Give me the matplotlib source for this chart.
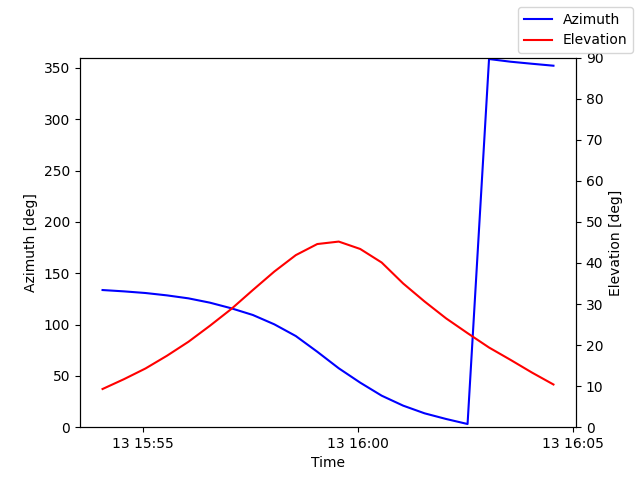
import matplotlib
matplotlib.use("Agg")
import matplotlib.pyplot as plt
import numpy as np

# pass times (30 s steps) and look angles
times = ["15:54:03", "15:54:33", "15:55:03", "15:55:33", "15:56:03", "15:56:33",
         "15:57:03", "15:57:33", "15:58:03", "15:58:33", "15:59:03", "15:59:33",
         "16:00:03", "16:00:33", "16:01:03", "16:01:33", "16:02:03", "16:02:33",
         "16:03:03", "16:03:33", "16:04:03", "16:04:33"]
azimuth = [133.6, 132.3, 130.7, 128.4, 125.5, 121.3, 115.8, 109.3, 100.2, 88.8,
           73.5, 57.4, 43.4, 30.7, 21.0, 13.5, 8.0, 3.1, 358.6, 356.0, 354.0, 352.1]
elevation = [9.3, 11.7, 14.3, 17.4, 20.8, 24.7, 28.8, 33.4, 37.9, 41.9,
             44.6, 45.2, 43.4, 40.1, 35.0, 30.6, 26.5, 22.9, 19.4, 16.4, 13.3, 10.4]

t = np.array(["2024-01-13T" + s for s in times], dtype="datetime64[s]")

fig, ax = plt.subplots(figsize=(6.4, 4.8), dpi=100)
ax.plot(t, azimuth, color="blue", label="Azimuth")
ax.set_ylim(0, 360)
ax.set_ylabel("Azimuth [deg]")
ax.set_xlabel("Time")

ax2 = ax.twinx()
ax2.plot(t, elevation, color="red", label="Elevation")
ax2.set_ylim(0, 90)
ax2.set_ylabel("Elevation [deg]")

fig.legend()
fig.savefig("out.png")
